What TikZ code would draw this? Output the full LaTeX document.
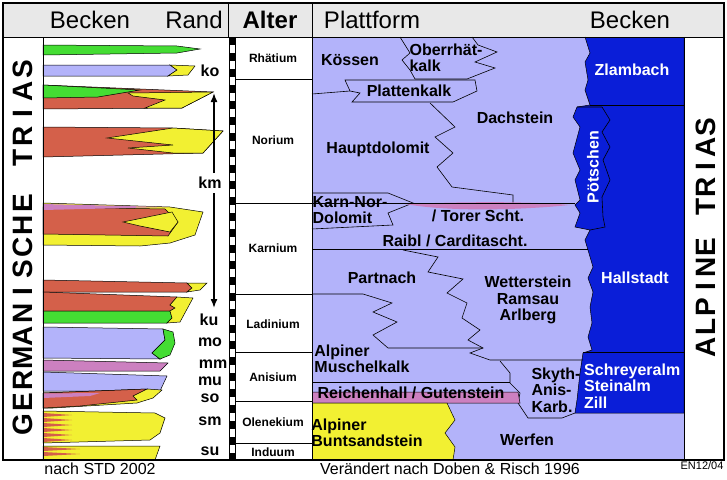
\documentclass[tikz,border=0pt]{standalone}
\usepackage{fontspec}
\setmainfont{Liberation Sans}
\usetikzlibrary{arrows.meta}
\definecolor{lav}{HTML}{B3B3FA}
\definecolor{dblue}{HTML}{0A1ED8}
\definecolor{grn}{HTML}{44DD33}
\definecolor{rd}{HTML}{D4604A}
\definecolor{yel}{HTML}{F2F032}
\definecolor{pnk}{HTML}{CC80C0}
\definecolor{hdr}{HTML}{E8E8E8}
\begin{document}
\begin{tikzpicture}[x=1pt,y=-1pt,
  lith/.style={draw=black,line width=0.5pt},
  ln/.style={draw=black,line width=0.6pt},
  lbl/.style={font=\fontsize{16}{16.5}\selectfont\bfseries,align=left,inner sep=0},
  wlbl/.style={lbl,text=white},
  stage/.style={font=\fontsize{12}{13}\selectfont\bfseries,inner sep=0},
  unit/.style={font=\fontsize{16}{16}\selectfont\bfseries,inner sep=0},
  head/.style={font=\fontsize{24}{24}\selectfont,inner sep=0},
  big/.style={font=\fontsize{28}{28}\selectfont\bfseries,inner sep=0,rotate=90},
  foot/.style={font=\fontsize{16}{16}\selectfont,inner sep=0}]
\useasboundingbox (0,0) rectangle (727,479);
% header
\fill[hdr] (3,3) rectangle (724,37);
\fill[white] (3,37) rectangle (724,460);
% platform background
\fill[lav] (312,37) rectangle (684,460);
% basin dark blue
\fill[dblue,draw=black,line width=0.5pt] (585,37)--(590,53)--(585,62)--(588,80)--(585,90)--(590,105)--(577,107)--(573,117)--(580,127)--(573,153)--(580,170)--(575,180)--(580,200)--(575,205)--(580,213)--(575,227)--(590,230)--(585,240)--(588,250)--(593,267)--(588,278)--(593,292)--(590,307)--(592,323)--(588,337)--(592,350)--(583,353)--(580,373)--(577,400)--(575,413)--(684,413)--(684,37);
\draw[ln] (590,105)--(684,105);
\draw[ln] (577,107)--(602,107)--(610,120)--(602,132)--(610,147)--(603,160)--(610,180)--(602,197)--(603,217)--(605,227)--(590,230);
\draw[ln] (583,352)--(684,352);
% Oberrhaetkalk
\draw[ln] (400,37)--(410,53)--(402,60)--(410,70)--(415,79)--(467,79)--(495,68)--(475,62)--(497,52)--(478,45)--(472,37);
% Plattenkalk
\draw[ln] (312,94)--(350,91)--(345,80)--(475,80)--(477,91)--(453,102)--(352,102)--(360,93)--(350,91);
% zigzag Hauptdolomit/Dachstein
\draw[ln] (430,103)--(455,127)--(435,137)--(453,153)--(437,167)--(452,187)--(513,195)--(513,203);
% Karn-Nor-Dolomit
\draw[ln] (312,193)--(388,193)--(413,203)--(388,213)--(393,225)--(312,229);
% Torer
\fill[pnk] (405,204) .. controls (480,201) and (540,202) .. (570,205) .. controls (520,210) and (450,212) .. (405,204);
\draw[ln] (312,203)--(575,203);
\draw[ln] (312,249)--(588,249);
% Partnach/Wetterstein zigzag
\draw[ln] (403,250)--(438,257)--(428,272)--(463,279)--(447,293)--(467,303)--(462,318)--(480,330)--(468,340)--(483,348)--(470,353)--(490,360)--(583,360);
\draw[ln] (312,294)--(363,294)--(392,303)--(373,312)--(397,322)--(373,335)--(388,348)--(483,348);
% Skyth
\draw[ln] (500,361)--(510,373)--(510,383)--(520,393)--(518,403)--(528,418)--(562,418)--(575,413);
% Reichenhall
\draw[ln] (312,382)--(510,382);
\fill[pnk,draw=black,line width=0.5pt] (312,392)--(518,392)--(520,403)--(312,403);
% Buntsandstein
\fill[yel,draw=black,line width=0.5pt] (312,403)--(447,403)--(455,420)--(445,433)--(455,447)--(453,460)--(312,460);
% platform labels
\node[lbl] (koessen) at (350,60) {Kössen};
\node[lbl] (ober) at (446,58) {Oberrhät-\\kalk};
\node[lbl] (platten) at (409,91) {Plattenkalk};
\node[lbl] (dach) at (515,118) {Dachstein};
\node[lbl] (haupt) at (378,149) {Hauptdolomit};
\node[lbl] (karn) at (350,210) {Karn-Nor-\\Dolomit};
\node[lbl] (torer) at (478,216) {/ Torer Scht.};
\node[lbl] (raibl) at (455,241) {Raibl / Carditascht.};
\node[lbl] (partnach) at (382,278) {Partnach};
\node[lbl,align=center] (wett) at (528,300) {Wetterstein\\Ramsau\\Arlberg};
\node[lbl] (musch) at (362,359) {Alpiner\\Muschelkalk};
\node[lbl] (reich) at (411,393) {Reichenhall / Gutenstein};
\node[lbl] (skyth) at (556,390) {Skyth-\\Anis-\\Karb.};
\node[lbl] (bunt) at (367,433) {Alpiner\\Buntsandstein};
\node[lbl] (werfen) at (527,440) {Werfen};
\node[wlbl] (zlam) at (632,70) {Zlambach};
\node[wlbl,rotate=90] (poet) at (593,167) {Pötschen};
\node[wlbl] (hall) at (635,278) {Hallstadt};
\node[wlbl,anchor=west] (schrey) at (584,386) {Schreyeralm\\Steinalm\\Zill};
% Alter column
\draw[ln] (235,79)--(312,79) (235,203)--(312,203) (235,294)--(312,294) (235,352)--(312,352) (235,401)--(312,401) (235,443)--(312,443);
\node[stage] (rh) at (273,58) {Rhätium};
\node[stage] (no) at (273,140) {Norium};
\node[stage] (ka) at (273,248) {Karnium};
\node[stage] (la) at (273,324) {Ladinium};
\node[stage] (an) at (273,377) {Anisium};
\node[stage] (ol) at (273,422) {Olenekium};
\node[stage] (in) at (273,452) {Induum};
% checker
\foreach \i in {0,2,...,52} {\fill (229,37+8*\i) rectangle (235,45+8*\i);}
\draw[line width=0.5pt] (229,37)--(229,460) (235,37)--(235,460);
% left lithology
\fill[grn,lith] (43,45)--(177,46)--(200,49)--(177,53)--(43,55)--cycle;
\fill[lav,lith] (43,65)--(170,65)--(177,70)--(168,76)--(43,76)--cycle;
\fill[yel,lith] (170,65)--(195,66)--(188,75)--(168,76)--(177,70)--cycle;
\fill[rd,lith] (43,85)--(213,92)--(182,108)--(43,109)--cycle;
\fill[grn,lith] (43,85)--(140,90)--(98,97)--(43,98)--cycle;
\fill[yel,lith] (128,93)--(213,92)--(182,108)--(145,108)--(165,100)--(133,96)--cycle;
\fill[rd,lith] (43,127)--(173,128)--(223,131)--(203,153)--(43,157)--cycle;
\fill[yel,lith] (107,138)--(173,128)--(223,131)--(203,153)--(173,153)--(128,148)--(173,145)--cycle;
\fill[yel,lith] (43,203)--(170,207)--(203,212)--(195,235)--(170,243)--(140,246)--(43,245)--cycle;
\fill[rd,lith] (43,207)--(165,209)--(178,222)--(168,236)--(43,234)--cycle;
\fill[pnk] (43,204)--(167,207)--(43,210)--cycle;
\fill[yel,lith] (123,222)--(172,212)--(178,222)--(170,232)--(140,226)--cycle;
\fill[rd,lith] (43,280)--(187,283)--(192,288)--(187,292)--(43,292)--cycle;
\fill[yel,lith] (187,283)--(207,283)--(200,290)--(187,292)--(192,288)--cycle;
\fill[rd,lith] (43,292)--(177,297)--(170,305)--(175,308)--(170,311)--(43,311)--cycle;
\fill[grn,lith] (43,311)--(170,311)--(172,318)--(167,323)--(43,323)--cycle;
\fill[yel,lith] (177,297)--(193,298)--(180,322)--(167,323)--(172,318)--(170,311)--(175,308)--(170,305)--cycle;
\fill[lav,lith] (43,327)--(163,329)--(165,340)--(152,353)--(160,359)--(43,358)--cycle;
\fill[grn,lith] (163,329)--(173,332)--(175,343)--(170,355)--(160,359)--(152,353)--(165,340)--cycle;
\fill[pnk,lith] (43,360)--(168,363)--(160,371)--(43,371)--cycle;
\fill[lav,lith] (43,372)--(167,376)--(160,391)--(43,391)--cycle;
\fill[yel,lith] (43,393)--(147,389)--(162,390)--(153,398)--(137,403)--(53,408)--(43,408)--cycle;
\fill[rd,lith] (43,393)--(147,389)--(133,396)--(137,400)--(80,406)--(43,408)--cycle;
\fill[pnk] (43,393.5)--(100,393)--(90,396)--(43,398)--cycle;
\fill[yel,lith] (43,411)--(155,413)--(165,418)--(160,433)--(150,440)--(43,443)--cycle;
\foreach \y in {413,418,...,438} {\fill[rd] (43.3,\y)--(72,\y+2)--(43.3,\y+4)--cycle;}
\fill[yel,lith] (43,446)--(160,446)--(155,460)--(43,460)--cycle;
\foreach \y in {447,452} {\fill[rd] (43.3,\y)--(80,\y+2)--(43.3,\y+4)--cycle;}
% unit labels
\node[unit] (ko) at (210,71) {ko};
\node[unit] (km) at (210,183) {km};
\node[unit] (ku) at (209,320) {ku};
\node[unit] (mo) at (210,342) {mo};
\node[unit] (mm) at (213,364) {mm};
\node[unit] (mu) at (210,381) {mu};
\node[unit] (so) at (210,398) {so};
\node[unit] (sm) at (210,421) {sm};
\node[unit] (su) at (210,451) {su};
\draw[line width=1.5pt,-{Latex[length=9pt,width=7pt]}] (km.north) ++(4,-4) coordinate (kmt) -- (214,93);
\draw[line width=1.5pt,-{Latex[length=9pt,width=7pt]}] (km.south) ++(4,4) coordinate (kmb) -- (214,308);
% big vertical labels
\foreach \c [count=\k] in {G,E,R,M,A,N,I,S,C,H,E,{},T,R,I,A,S}
  {\node[big] (g\k) at (23,447-22.2*\k) {\c};}
\foreach \c [count=\k] in {A,L,P,I,N,E,{},T,R,I,A,S}
  {\node[big] (a\k) at (706,367-20*\k) {\c};}
% headers
\node[head] (h1) at (90,20) {Becken};
\node[head] (h2) at (194,20) {Rand};
\node[head,font=\fontsize{24}{24}\selectfont\bfseries] (h3) at (270,20) {Alter};
\node[head] (h4) at (372,20) {Plattform};
\node[head] (h5) at (630,20) {Becken};
% frame lines
\draw[line width=1pt] (3,37)--(724,37);
\draw[line width=1pt] (43,37)--(43,460) (684,37)--(684,460) (312,3)--(312,460) (228,3)--(228,37);
\draw[line width=2pt] (3,3) rectangle (724,460);
% footers
\node[foot] (f1) at (100,469) {nach STD 2002};
\node[foot] (f2) at (450,469) {Verändert nach Doben \& Risch 1996};
\node[inner sep=0,font=\fontsize{11}{11}\selectfont] (f3) at (702,466) {EN12/04};
\end{tikzpicture}
\end{document}
